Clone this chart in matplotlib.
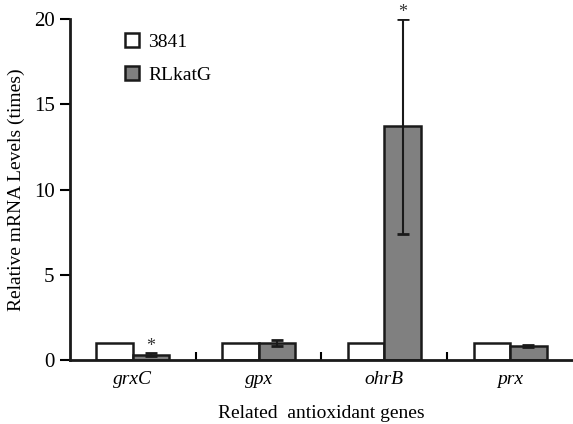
import numpy as np
import matplotlib.pyplot as plt

plt.rcParams['font.family'] = ['Liberation Serif', 'DejaVu Serif']

genes = ["grxC", "gpx", "ohrB", "prx"]
wt = [1.0, 1.0, 1.0, 1.0]
mutant = [0.30, 1.0, 13.7, 0.82]
mutant_err = [0.08, 0.17, 6.3, 0.06]
signif = [True, False, True, False]

x = np.arange(len(genes))
w = 0.29

fig = plt.figure(figsize=(5.73, 4.24), dpi=100)
ax = fig.add_axes([0.122, 0.151, 0.878, 0.804])

ax.bar(x - w / 2, wt, w, color="white", edgecolor="#1a1a1a", linewidth=1.8, label="3841")
ax.bar(x + w / 2, mutant, w, color="#808080", edgecolor="#1a1a1a", linewidth=1.8, label="RLkatG")
ax.errorbar(x + w / 2, mutant, yerr=mutant_err, fmt="none", ecolor="#1a1a1a",
            elinewidth=1.5, capsize=4, capthick=2)

# significance stars
for i in range(len(genes)):
    if signif[i]:
        ax.text(x[i] + w / 2, mutant[i] + mutant_err[i] + 0.4, "*", ha="center",
                va="center", fontsize=13, color="#333333", clip_on=False)

ax.set_xlim(-0.5, 3.5)
ax.set_ylim(0, 20)
ax.set_yticks([0, 5, 10, 15, 20])
ax.set_xticks(x)
ax.set_xticklabels(genes, fontstyle="italic")
ax.set_xticks([0.5, 1.5, 2.5], minor=True)
ax.tick_params(axis="x", which="major", length=0, labelsize=14, pad=8)
ax.tick_params(axis="x", which="minor", direction="in", length=6, width=1.5)
ax.tick_params(axis="y", direction="out", length=7, width=1.5, labelsize=15, pad=4)

for s in ["top", "right"]:
    ax.spines[s].set_visible(False)
for s in ["left", "bottom"]:
    ax.spines[s].set_linewidth(2)
    ax.spines[s].set_color("#1a1a1a")

ax.set_ylabel("Relative mRNA Levels (times)", fontsize=14, labelpad=6)
ax.set_xlabel("Related  antioxidant genes", fontsize=14, labelpad=12)

ax.legend(loc="upper left", bbox_to_anchor=(0.075, 1.01), frameon=False, fontsize=14,
          handlelength=0.7, handleheight=0.7, handletextpad=0.5, labelspacing=0.8)

fig.savefig("out.png", dpi=100)
